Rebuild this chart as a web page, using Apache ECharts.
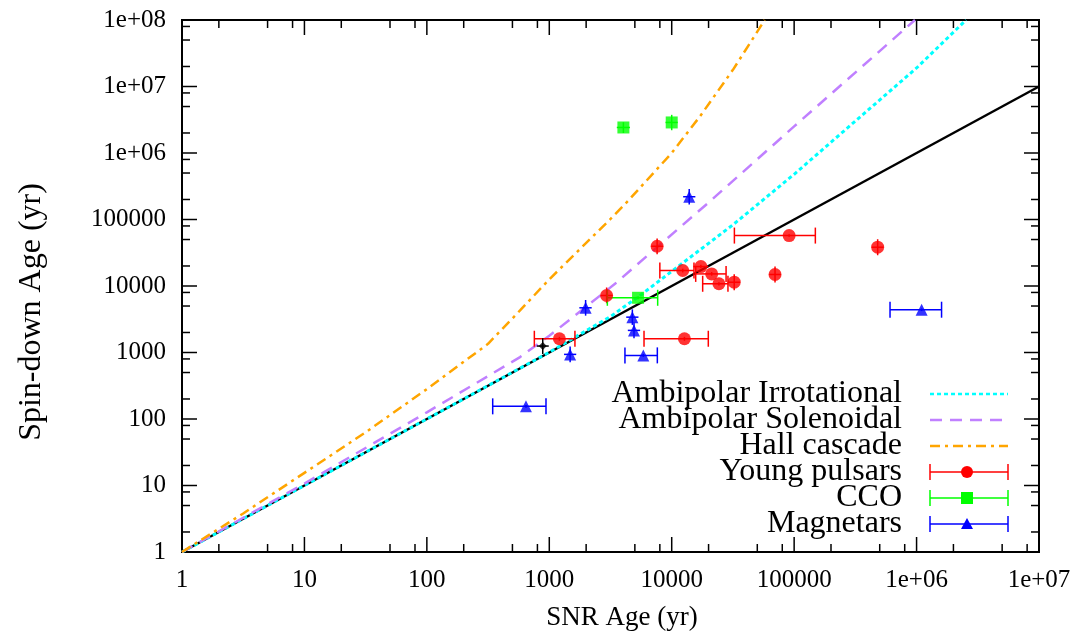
<!DOCTYPE html>
<html><head><meta charset="utf-8">
<script src="https://cdn.jsdelivr.net/npm/echarts@6/dist/echarts.min.js"></script>
<style>html,body{margin:0;padding:0;background:#fff}#c{width:1083px;height:633px}</style>
</head><body><div id="c"></div>
<script>
// ---------- tick labels ----------
const xTickLabels = ['1','10','100','1000','10000','100000','1e+06','1e+07'];
const yTickLabels = ['1','10','100','1000','10000','100000','1e+06','1e+07','1e+08'];
const minorMantissas = [2,5,8];
const xTitle = 'SNR Age (yr)';
const yTitle = 'Spin-down Age (yr)';
const legendNames = ['Ambipolar Irrotational','Ambipolar Solenoidal','Hall cascade','Young pulsars','CCO','Magnetars'];

// ---------- model curves ----------
const equalX = [1, 1e7];
const equalY = [1, 1e7];
const irrotX = [1, 10, 100, 1000, 3162, 5623, 10000, 31623, 100000, 316228, 1000000, 2535000];
const irrotY = [1, 10, 100, 1010, 3470, 7400, 16600, 83200, 479000, 3020000, 19000000, 100000000];
const solenX = [1, 10, 100, 577, 1000, 3444, 20560, 100000, 970000];
const solenY = [1, 10.7, 126, 853, 1780, 10800, 188000, 2510000, 100000000];
const hallX = [1, 3.16, 10, 31.6, 100, 200, 272, 316, 577, 1000, 3133, 4416, 10000, 17000, 31623, 57500];
const hallY = [1, 3.8, 15.5, 63, 282, 724, 1100, 1350, 4290, 12600, 100000, 192000, 1000000, 3550000, 17800000, 100000000];

// ---------- observations ----------
const pulsarX   = [91000, 7600, 12300, 17300, 21200, 24300, 32400, 69800, 481000, 2940, 1210, 12700];
const pulsarY   = [57300, 39600, 17100, 19600, 15200, 10800, 11400, 14900, 38300, 7200, 1610, 1610];
const pulsarXlo = [32500, 6800, 8000, 15000, 15700, 17900, 29000, 62500, 430000, 2630, 755, 5940];
const pulsarXhi = [149000, 8500, 15200, 19900, 27800, 28800, 36200, 78000, 538000, 3290, 1620, 19900];
const pulsarYlo = [55000, 30000, 16000, 18500, 14300, 10200, 8600, 11300, 29000, 5500, 1500, 1500];
const pulsarYhi = [60000, 52000, 18200, 20800, 16200, 11400, 15000, 19600, 50500, 9500, 1720, 1720];

const ccoX   = [4030, 10000, 5310];
const ccoY   = [2420000, 2880000, 6650];
const ccoXlo = [3560, 8900, 2980];
const ccoXhi = [4560, 11200, 7680];
const ccoYlo = [2000000, 2200000, 6300];
const ccoYhi = [2900000, 3750000, 7000];

const magX   = [1980, 4770, 4920, 1480, 5860, 13900, 1100000, 645];
const magY   = [4700, 3400, 2150, 937, 905, 220000, 4400, 155];
const magXlo = [1760, 4250, 4380, 1320, 4150, 12400, 607000, 345];
const magXhi = [2220, 5350, 5520, 1660, 7630, 15600, 1600000, 940];
const magYlo = [3580, 2600, 1640, 715, 860, 168000, 4200, 148];
const magYhi = [6160, 4460, 2820, 1230, 950, 288000, 4600, 162];

const otherX = [884];
const otherY = [1250];
const otherXlo = [790];
const otherXhi = [990];
const otherYlo = [950];
const otherYhi = [1640];

// ---------- helpers ----------
const FONT = 'Liberation Serif';
const zip = (a, b) => a.map((v, i) => [v, b[i]]);
const zipErr = (x, y, xl, xh, yl, yh) => x.map((v, i) => [v, y[i], xl[i], xh[i], yl[i], yh[i]]);

function errRender(color) {
  return function (params, api) {
    const x = api.value(0), y = api.value(1);
    const lo = api.coord([api.value(2), y]);
    const hi = api.coord([api.value(3), y]);
    const yl = api.coord([x, api.value(4)]);
    const yh = api.coord([x, api.value(5)]);
    const st = {stroke: color, lineWidth: 1.5};
    const ch = [
      {type: 'line', shape: {x1: lo[0], y1: lo[1], x2: hi[0], y2: hi[1]}, style: st},
      {type: 'line', shape: {x1: yl[0], y1: yl[1], x2: yh[0], y2: yh[1]}, style: st}
    ];
    if (hi[0] - lo[0] > 24) {
      ch.push({type: 'line', shape: {x1: lo[0], y1: lo[1] - 8, x2: lo[0], y2: lo[1] + 8}, style: st});
      ch.push({type: 'line', shape: {x1: hi[0], y1: hi[1] - 8, x2: hi[0], y2: hi[1] + 8}, style: st});
    }
    return {type: 'group', children: ch};
  };
}

// tick list built from label arrays
const tickData = [];
xTickLabels.forEach((l, d) => {
  tickData.push([Math.pow(10, d), 0, 1]);
  if (d < xTickLabels.length - 1) minorMantissas.forEach(m => tickData.push([m * Math.pow(10, d), 0, 0]));
});
yTickLabels.forEach((l, d) => {
  tickData.push([Math.pow(10, d), 1, 1]);
  if (d < yTickLabels.length - 1) minorMantissas.forEach(m => tickData.push([m * Math.pow(10, d), 1, 0]));
});
const X0 = 1, X1 = 1e7, Y0 = 1, Y1 = 1e8;

function tickRender(params, api) {
  const v = api.value(0), axis = api.value(1), major = api.value(2);
  const len = major ? 15 : 8;
  const st = {stroke: '#000', lineWidth: 1.5};
  if (axis === 0) {
    const b = api.coord([v, Y0]), t = api.coord([v, Y1]);
    return {type: 'group', children: [
      {type: 'line', shape: {x1: b[0], y1: b[1], x2: b[0], y2: b[1] - len}, style: st},
      {type: 'line', shape: {x1: t[0], y1: t[1], x2: t[0], y2: t[1] + len}, style: st}
    ]};
  } else {
    const l = api.coord([X0, v]), r = api.coord([X1, v]);
    return {type: 'group', children: [
      {type: 'line', shape: {x1: l[0], y1: l[1], x2: l[0] + len, y2: l[1]}, style: st},
      {type: 'line', shape: {x1: r[0], y1: r[1], x2: r[0] - len, y2: r[1]}, style: st}
    ]};
  }
}

// ---------- legend (drawn with graphic) ----------
const legendRows = [394, 420, 446, 472, 498, 524];
const legTextRight = 902, legL = 930, legR = 1008, legMid = 967;
const legendGraphic = [];
const lineStyles = [
  {stroke: '#00ffff', lineWidth: 2.5, lineDash: [4, 3]},
  {stroke: '#c080ff', lineWidth: 2.5, lineDash: [12, 8]},
  {stroke: '#ffa500', lineWidth: 2.5, lineDash: [10, 5, 3, 5]}
];
const errColors = ['#ff0000', '#00ff00', '#0000ff'];
legendNames.forEach((name, i) => {
  const y = legendRows[i];
  legendGraphic.push({type: 'text', x: legTextRight, y: y, style: {text: name, align: 'right', verticalAlign: 'middle', font: '32px "' + FONT + '"', fill: '#000'}});
  if (i < 3) {
    legendGraphic.push({type: 'line', shape: {x1: legL, y1: y, x2: legR, y2: y}, style: lineStyles[i]});
  } else {
    const c = errColors[i - 3];
    const st = {stroke: c, lineWidth: 1.5};
    legendGraphic.push({type: 'line', shape: {x1: legL, y1: y, x2: legR, y2: y}, style: st});
    legendGraphic.push({type: 'line', shape: {x1: legL, y1: y - 8, x2: legL, y2: y + 8}, style: st});
    legendGraphic.push({type: 'line', shape: {x1: legR, y1: y - 8, x2: legR, y2: y + 8}, style: st});
    if (i === 3) legendGraphic.push({type: 'circle', shape: {cx: legMid, cy: y, r: 6}, style: {fill: c}});
    if (i === 4) legendGraphic.push({type: 'rect', shape: {x: legMid - 6, y: y - 6, width: 12, height: 12}, style: {fill: c}});
    if (i === 5) legendGraphic.push({type: 'polygon', shape: {points: [[legMid, y - 6], [legMid - 6, y + 5], [legMid + 6, y + 5]]}, style: {fill: c}});
  }
});

const chart = echarts.init(document.getElementById('c'), null, {renderer: 'canvas'});
chart.setOption({
  animation: false,
  backgroundColor: '#fff',
  grid: {left: 182, right: 44, top: 20, bottom: 81, show: true, borderColor: '#000', borderWidth: 2},
  xAxis: {
    type: 'log', logBase: 10, min: X0, max: X1,
    axisLine: {show: true, lineStyle: {color: '#000', width: 2}},
    axisTick: {show: false}, splitLine: {show: false}, minorTick: {show: false},
    axisLabel: {fontFamily: FONT, fontSize: 25, color: '#000', margin: 16,
      formatter: v => xTickLabels[Math.round(Math.log10(v))]}
  },
  yAxis: {
    type: 'log', logBase: 10, min: Y0, max: Y1,
    axisLine: {show: true, lineStyle: {color: '#000', width: 2}},
    axisTick: {show: false}, splitLine: {show: false}, minorTick: {show: false},
    axisLabel: {fontFamily: FONT, fontSize: 25, color: '#000', margin: 16,
      formatter: v => yTickLabels[Math.round(Math.log10(v))]}
  },
  graphic: [
    {type: 'text', x: 622, y: 618, style: {text: xTitle, align: 'center', verticalAlign: 'middle', font: '27px "' + FONT + '"', fill: '#000'}},
    {type: 'text', x: 32, y: 312, rotation: Math.PI / 2, style: {text: yTitle, align: 'center', verticalAlign: 'middle', font: '32px "' + FONT + '"', fill: '#000'}}
  ].concat(legendGraphic),
  series: [
    {type: 'custom', renderItem: tickRender, data: tickData, clip: false, silent: true, z: 1},
    {type: 'line', data: zip(equalX, equalY), showSymbol: false, lineStyle: {color: '#000', width: 2.5}, z: 3},
    {type: 'line', data: zip(irrotX, irrotY), showSymbol: false, lineStyle: {color: '#00ffff', width: 3, type: [4, 3]}, z: 4},
    {type: 'line', data: zip(solenX, solenY), showSymbol: false, lineStyle: {color: '#c080ff', width: 2.5, type: [12, 8]}, z: 4},
    {type: 'line', data: zip(hallX, hallY), showSymbol: false, lineStyle: {color: '#ffa500', width: 2.5, type: [10, 5, 3, 5]}, z: 4},
    {type: 'custom', renderItem: errRender('#ff0000'), data: zipErr(pulsarX, pulsarY, pulsarXlo, pulsarXhi, pulsarYlo, pulsarYhi), z: 5},
    {type: 'scatter', data: zip(pulsarX, pulsarY), symbol: 'circle', symbolSize: 13, itemStyle: {color: '#ff0000'}, z: 6},
    {type: 'custom', renderItem: errRender('#00ff00'), data: zipErr(ccoX, ccoY, ccoXlo, ccoXhi, ccoYlo, ccoYhi), z: 5},
    {type: 'scatter', data: zip(ccoX, ccoY), symbol: 'rect', symbolSize: 12, itemStyle: {color: '#00ff00'}, z: 6},
    {type: 'custom', renderItem: errRender('#0000ff'), data: zipErr(magX, magY, magXlo, magXhi, magYlo, magYhi), z: 5},
    {type: 'scatter', data: zip(magX, magY), symbol: 'triangle', symbolSize: 12, itemStyle: {color: '#0000ff'}, z: 6},
    {type: 'custom', renderItem: errRender('#000000'), data: zipErr(otherX, otherY, otherXlo, otherXhi, otherYlo, otherYhi), z: 5},
    {type: 'scatter', data: zip(otherX, otherY), symbol: 'diamond', symbolSize: 8, itemStyle: {color: '#000'}, z: 6}
  ]
});
</script></body></html>
